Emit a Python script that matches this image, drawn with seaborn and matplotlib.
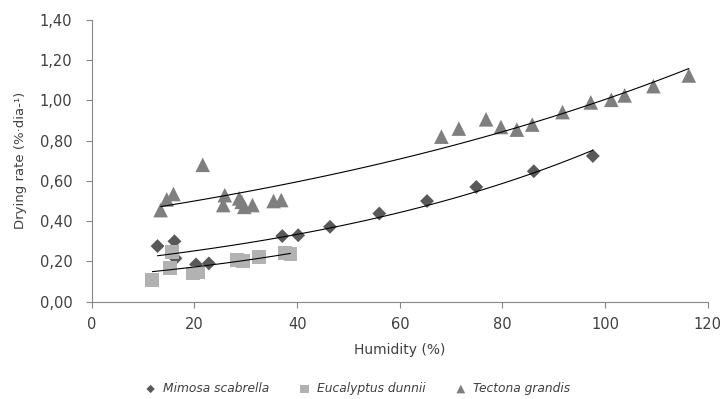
import numpy as np
import pandas as pd
import matplotlib
matplotlib.use("Agg")
import matplotlib.pyplot as plt
import seaborn as sns

# Mimosa scabrella
mimosa_x = [12.8, 16.1, 16.3, 20.3, 22.8, 37.1, 40.2, 46.4, 56.0, 65.3, 74.9, 86.1, 97.6]
mimosa_y = [0.276, 0.300, 0.215, 0.185, 0.190, 0.326, 0.330, 0.372, 0.438, 0.500, 0.570, 0.648, 0.724]

# Eucalyptus dunnii
euca_x = [11.8, 15.3, 15.7, 19.7, 20.7, 28.2, 29.5, 32.5, 37.7, 38.7]
euca_y = [0.107, 0.165, 0.248, 0.140, 0.145, 0.207, 0.200, 0.220, 0.240, 0.235]

# Tectona grandis
tect_x = [13.4, 14.6, 15.9, 21.6, 25.6, 25.9, 28.7, 29.2, 29.7, 31.3, 35.4, 36.9,
          68.1, 71.5, 76.8, 79.7, 82.8, 85.8, 91.7, 97.2, 101.2, 103.8, 109.4, 116.3]
tect_y = [0.455, 0.508, 0.535, 0.680, 0.480, 0.529, 0.513, 0.496, 0.471, 0.480, 0.500, 0.505,
          0.820, 0.860, 0.906, 0.868, 0.855, 0.880, 0.942, 0.990, 1.003, 1.025, 1.071, 1.124]

x_ticks = [0, 20, 40, 60, 80, 100, 120]
y_ticks = [0.0, 0.2, 0.4, 0.6, 0.8, 1.0, 1.2, 1.4]


def exp_fit(xs, ys):
    # least squares fit of y = a*exp(b*x), b on a grid, a in closed form
    xs = np.asarray(xs)
    ys = np.asarray(ys)
    best = None
    for b in np.linspace(-0.05, 0.05, 5001):
        e = np.exp(b * xs)
        a = (ys * e).sum() / (e * e).sum()
        sse = ((ys - a * e) ** 2).sum()
        if best is None or sse < best[0]:
            best = (sse, a, b)
    return best[1], best[2]


sns.set_style("white")
plt.rcParams['font.family'] = ['DejaVu Sans']

fig = plt.figure(figsize=(7.23, 3.99), dpi=100)
ax = fig.add_axes([0.127, 0.244, 0.852, 0.706])

series = [
    ("Mimosa scabrella", mimosa_x, mimosa_y, "D", "#595959", 50),
    ("Eucalyptus dunnii", euca_x, euca_y, "s", "#b2b2b2", 100),
    ("Tectona grandis", tect_x, tect_y, "^", "#7f7f7f", 110),
]

for name, xs, ys, mk, col, sz in series:
    df = pd.DataFrame({"x": xs, "y": ys})
    sns.scatterplot(data=df, x="x", y="y", marker=mk, color=col, s=sz,
                    edgecolor="none", ax=ax, label=name, zorder=3)

for name, xs, ys, mk, col, sz in series:
    a, b = exp_fit(xs, ys)
    xx = np.linspace(min(xs), max(xs), 100)
    ax.plot(xx, a * np.exp(b * xx), color="black", lw=0.8, zorder=4)

ax.set_xlim(0, 120)
ax.set_ylim(0, 1.4)
ax.set_xticks(x_ticks)
ax.set_yticks(y_ticks)
ax.set_yticklabels([f"{v:.2f}".replace(".", ",") for v in y_ticks])
ax.set_xticklabels([str(v) for v in x_ticks])

for s in ["top", "right"]:
    ax.spines[s].set_visible(False)
for s in ["left", "bottom"]:
    ax.spines[s].set_color("#868686")
    ax.spines[s].set_linewidth(0.8)
ax.tick_params(axis="both", direction="out", length=4, width=0.8, color="#868686",
               labelsize=10.5, labelcolor="#404040", left=True, bottom=True)
ax.tick_params(axis="y", pad=10)
ax.tick_params(axis="x", pad=7)

ax.set_xlabel("Humidity (%)", fontsize=10, color="#404040", labelpad=8)
ax.set_ylabel("Drying rate (%·dia-¹)", fontsize=9.5, color="#404040", labelpad=9)

handles, labels = ax.get_legend_handles_labels()
ax.get_legend().remove()
fig.legend(handles, labels, loc="lower center", bbox_to_anchor=(0.49, -0.018), ncol=3,
           frameon=False, prop={"style": "italic", "size": 8.8}, handletextpad=0.0,
           columnspacing=1.9, labelcolor="#404040", markerscale=0.6)

fig.savefig("out.png", dpi=100)
